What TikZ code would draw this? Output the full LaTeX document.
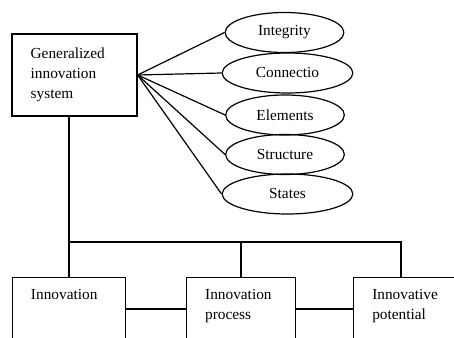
\documentclass[tikz,border=0pt]{standalone}
\usepackage{fontspec}
\setmainfont{Liberation Serif}
\usetikzlibrary{positioning, shapes.geometric}

\begin{document}
\begin{tikzpicture}[
        x = 0.75pt, y = -0.75pt,
     font = \fontsize{11.5}{15}\selectfont,
line width = 0.9pt,
   box/.style = {draw, align=left, inner xsep=14pt},
  part/.style = {box, text height=8pt, text depth=80pt, inner ysep=8.5pt},
  prop/.style = {draw, ellipse, minimum width=89pt, minimum height=30pt, inner sep=1pt},
  wide/.style = {prop, minimum width=98pt},
         ]
\useasboundingbox (0,0) rectangle (454,338);
\clip (0,0) rectangle (454,338);
\node (gis)    [box, text width=65.75pt, minimum width=93.75pt, minimum height=61.5pt]
               at (74.5,75) {Generalized\\ innovation\\ system};
\node (integ)  [prop] at (284.5,32.5) {Integrity};
\node (conn)   [wide] at (287.5,73)   {Connectio};
\node (elem)   [prop] at (285,115)    {Elements};
\node (struct) [prop] at (285,154.5)  {Structure};
\node (states) [wide] at (287.5,194)  {States};
\node (innov)     [part, text width=57pt, anchor=north]    at (69,277)  {Innovation};
\node (process)   [part, text width=53.75pt, anchor=north] at (241,277) {Innovation\\ process};
\node (potential) [part, text width=57pt, anchor=north west] at (353,277) {Innovative\\ potential};
\coordinate (bus) at (69,242);

%
\foreach \p in {integ, conn, elem, struct, states}
    \draw (gis.east) -- (\p.west);
\draw (bus |- gis.south) -- (bus) -- (innov.north);
\draw (bus) -| (process.north);
\draw (bus) -| ([xshift=36pt]potential.north west);
\draw ([yshift=-24pt]innov.north east) -- ([yshift=-24pt]process.north west);
\draw ([yshift=-24pt]process.north east) -- ([yshift=-24pt]potential.north west);
\end{tikzpicture}
\end{document}
